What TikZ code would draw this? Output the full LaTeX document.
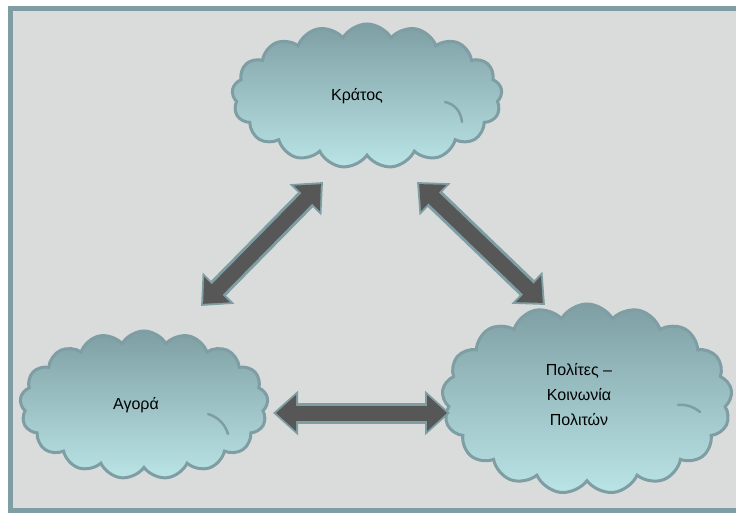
\documentclass[tikz,border=0pt]{standalone}
\usepackage{fontspec}
\setmainfont{Liberation Sans}
\usetikzlibrary{shapes.symbols,arrows.meta}
\definecolor{pagebg}{HTML}{DADCDC}
\definecolor{rim}{HTML}{7E9EA3}
\definecolor{cloudtop}{HTML}{7E9FA4}
\definecolor{cloudbot}{HTML}{BAE4E6}
\definecolor{arrowfill}{HTML}{575757}
\begin{document}
\begin{tikzpicture}[x=1pt,y=-1pt,
  cloudnode/.style={cloud, cloud puffs=17, cloud puff arc=120, cloud ignores aspect,
    draw=rim, line width=3pt, top color=cloudtop, bottom color=cloudbot,
    inner sep=0pt},
  labeltext/.style={font=\fontsize{16}{25}\selectfont, align=center},
  arrowrim/.style={draw=rim, line width=21pt,
    {Triangle[width=43pt,length=25pt]}-{Triangle[width=43pt,length=25pt]}},
  arrowcore/.style={draw=arrowfill, line width=15pt, shorten <=3pt, shorten >=3pt,
    {Triangle[width=35pt,length=20pt]}-{Triangle[width=35pt,length=20pt]}},
  puffline/.style={draw=rim, line width=2.5pt, line cap=round}]
\useasboundingbox (0,0) rectangle (736,513);
\fill[white] (0,0) rectangle (736,513);
% framed background panel
\draw[rim, line width=5pt, fill=pagebg] (10.5,8.5) rectangle (750,510);

% the three clouds
\node[cloudnode, minimum width=270pt, minimum height=144pt] (state) at (367,96) {};
\node[cloudnode, minimum width=248pt, minimum height=148pt] (market) at (144,405) {};
\node[cloudnode, minimum width=290pt, minimum height=190pt] (citizens) at (587,399) {};

% inner puff lines
\draw[puffline] (445,102) .. controls (455,104) and (461,112) .. (462,122);
\draw[puffline] (208,414) .. controls (218,417) and (225,424) .. (228,434);
\draw[puffline] (678,405) .. controls (686,404) and (694,407) .. (700,412);

% labels
\node[labeltext] (stateL) at (357,96) {Κράτος};
\node[labeltext] (marketL) at (136,405) {Αγορά};
\node[labeltext] (citizensL) at (579,395) {Πολίτες –\\Κοινωνία\\Πολιτών};

% arrow end points
\coordinate (a1) at (201,306);
\coordinate (a2) at (323,182);
\coordinate (b1) at (417,182);
\coordinate (b2) at (545,305);
\coordinate (c1) at (273,413);
\coordinate (c2) at (450,413);

% double-headed block arrows
\foreach \p/\q in {a1/a2, b1/b2, c1/c2} {
  \draw[arrowrim] (\p) -- (\q);
  \draw[arrowcore] (\p) -- (\q);
}
\end{tikzpicture}
\end{document}
